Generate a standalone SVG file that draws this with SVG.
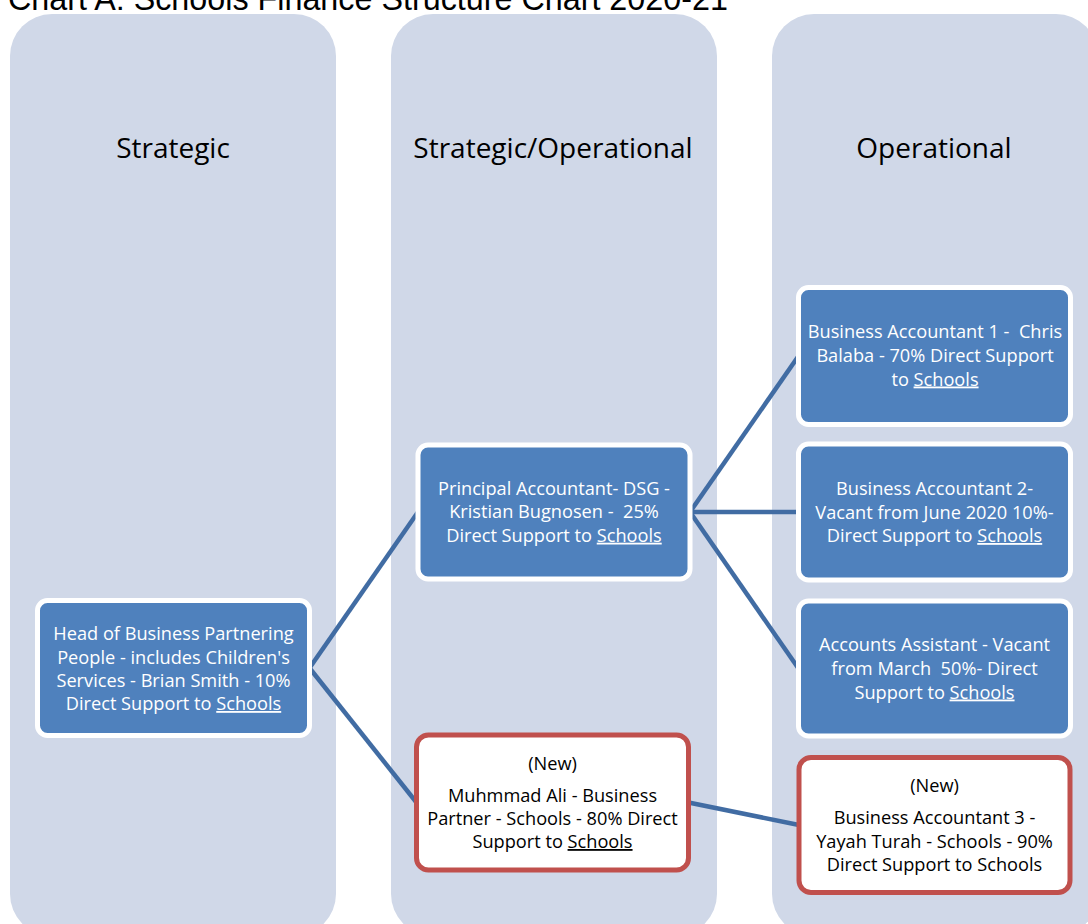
<svg xmlns="http://www.w3.org/2000/svg" width="1088" height="924" viewBox="0 0 1088 924">
<style>
.col{fill:#D0D8E8}
.hdr{font-family:"Open Sans","Noto Sans",sans-serif;font-size:28px;fill:#000;text-anchor:middle}
.box{fill:#4F81BD;stroke:#fff;stroke-width:5}
.newbox{fill:#fff;stroke:#C0504D;stroke-width:5}
.t{font-family:"Open Sans","Noto Sans",sans-serif;font-size:18.2px;text-anchor:middle;white-space:pre}
.w{fill:#fff}
.k{fill:#000}
.u{text-decoration:underline}
.conn{stroke:#416CA3;stroke-width:4.5;fill:none}
</style>
<rect width="1088" height="924" fill="#fff"/>
<text x="8" y="10" font-family="'Liberation Sans',Arial,sans-serif" font-size="32.3" fill="#000">Chart A: Schools Finance Structure Chart 2020-21</text>
<g id="columns">
<rect class="col" x="10" y="14" width="326" height="922" rx="42"/>
<rect class="col" x="391" y="14" width="326" height="922" rx="42"/>
<rect class="col" x="772" y="14" width="326" height="922" rx="42"/>
<text class="hdr" x="173" y="158">Strategic</text>
<text class="hdr" x="553" y="158">Strategic/Operational</text>
<text class="hdr" x="934" y="158">Operational</text>
</g>
<g id="connectors">
<line class="conn" x1="309.5" y1="668" x2="418" y2="512"/>
<line class="conn" x1="309.5" y1="668" x2="416.5" y2="802.5"/>
<line class="conn" x1="690" y1="512" x2="798.5" y2="356"/>
<line class="conn" x1="690" y1="512" x2="798.5" y2="512"/>
<line class="conn" x1="690" y1="512" x2="798.5" y2="668.5"/>
<line class="conn" x1="688.5" y1="802.5" x2="799" y2="825"/>
</g>
<g id="head">
<rect class="box" x="37.5" y="600.5" width="272" height="135" rx="10"/>
<text class="t w"><tspan x="173.5" y="640">Head of Business Partnering</tspan><tspan x="173.5" y="663.5">People - includes Children's</tspan><tspan x="173.5" y="687">Services - Brian Smith - 10%</tspan><tspan x="173.5" y="710">Direct Support to <tspan class="u">Schools</tspan></tspan></text>
</g>
<g id="principal">
<rect class="box" x="418" y="445" width="272" height="134" rx="10"/>
<text class="t w"><tspan x="554" y="494.5">Principal Accountant- DSG -</tspan><tspan x="554" y="518">Kristian Bugnosen -  25%</tspan><tspan x="554" y="541.7">Direct Support to <tspan class="u">Schools</tspan></tspan></text>
</g>
<g id="muhmmad">
<rect class="newbox" x="416.5" y="735" width="272" height="135" rx="12"/>
<text class="t k"><tspan x="552.5" y="769.5">(New)</tspan><tspan x="552.5" y="801.5">Muhmmad Ali - Business</tspan><tspan x="552.5" y="825">Partner - Schools - 80% Direct</tspan><tspan x="552.5" y="848">Support to <tspan class="u">Schools</tspan></tspan></text>
</g>
<g id="ba1">
<rect class="box" x="798.5" y="287.5" width="272" height="137" rx="10"/>
<text class="t w"><tspan x="935" y="337.5">Business Accountant 1 -  Chris</tspan><tspan x="935" y="361.5">Balaba - 70% Direct Support</tspan><tspan x="935" y="385.5">to <tspan class="u">Schools</tspan></tspan></text>
</g>
<g id="ba2">
<rect class="box" x="798.5" y="444" width="272" height="136" rx="10"/>
<text class="t w"><tspan x="934.5" y="495">Business Accountant 2-</tspan><tspan x="934.5" y="518.5">Vacant from June 2020 10%-</tspan><tspan x="934.5" y="542">Direct Support to <tspan class="u">Schools</tspan></tspan></text>
</g>
<g id="aa">
<rect class="box" x="798.5" y="601" width="272" height="135" rx="10"/>
<text class="t w"><tspan x="934.5" y="650.5">Accounts Assistant - Vacant</tspan><tspan x="934.5" y="674.5">from March  50%- Direct</tspan><tspan x="934.5" y="698.5">Support to <tspan class="u">Schools</tspan></tspan></text>
</g>
<g id="ba3">
<rect class="newbox" x="799" y="757.5" width="271" height="135" rx="12"/>
<text class="t k"><tspan x="934.5" y="791.5">(New)</tspan><tspan x="934.5" y="824">Business Accountant 3 -</tspan><tspan x="934.5" y="847.5">Yayah Turah - Schools - 90%</tspan><tspan x="934.5" y="870.5">Direct Support to Schools</tspan></text>
</g>
</svg>
